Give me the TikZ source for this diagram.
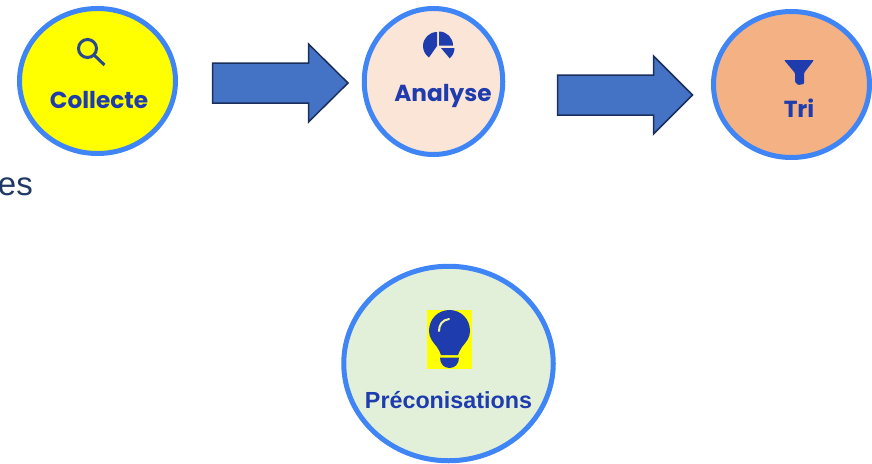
\documentclass[tikz,border=0pt]{standalone}
\usepackage{fontspec}
\setmainfont{Liberation Sans}
\newfontfamily\mont{Poppins}[BoldFont={* Bold}]
\usetikzlibrary{shapes.geometric}
\definecolor{ringblue}{HTML}{3F85F5}
\definecolor{inkblue}{HTML}{1E3CAE}
\definecolor{lensblue}{HTML}{2A4A90}
\definecolor{arrowfill}{HTML}{4472C4}
\definecolor{arrowline}{HTML}{1A2F5C}
\definecolor{navy}{HTML}{1F3864}
\definecolor{peach}{HTML}{FBE5D6}
\definecolor{orangefill}{HTML}{F4B183}
\definecolor{palegreen}{HTML}{E2F0D9}
\definecolor{pureyellow}{HTML}{FFFF00}
\definecolor{glint}{HTML}{F2F2A0}
\tikzset{
  ring/.style={draw=ringblue,line width=5pt,ellipse,inner sep=0pt,outer sep=0pt},
  blockarrow/.style={draw=arrowline,fill=arrowfill,line width=1.5pt,line join=miter},
  mlabel/.style={font=\mont\bfseries\fontsize{23.2}{23.2}\selectfont,text=inkblue,anchor=base,inner sep=0pt},
  alabel/.style={font=\bfseries\fontsize{23.3}{23.3}\selectfont,text=inkblue,anchor=base,inner sep=0pt},
  icon/.style={fill=inkblue,draw=none},
}
\begin{document}
\begin{tikzpicture}[x=1pt,y=-1pt]
\useasboundingbox (0,0) rectangle (872,463);
\clip (0,0) rectangle (872,463);
% circles
\node[ring,fill=pureyellow,minimum width=156pt,minimum height=145pt] (collecte) at (97.5,81) {};
\node[ring,fill=peach,minimum width=138.5pt,minimum height=146pt] (analyse) at (433.5,81.5) {};
\node[ring,fill=orangefill,minimum width=156pt,minimum height=146pt] (tri) at (791.5,84.5) {};
\node[ring,fill=palegreen,minimum width=209.5pt,minimum height=194.5pt] (preco) at (448.5,363.5) {};
% block arrows
\draw[blockarrow] (212.5,63) -- (308.5,63) -- (308.5,44) -- (348,83) -- (308.5,122) -- (308.5,103) -- (212.5,103) -- cycle;
\draw[blockarrow] (557.5,75) -- (653.5,75) -- (653.5,56) -- (692.5,95) -- (653.5,134) -- (653.5,115) -- (557.5,115) -- cycle;
% labels
\node[mlabel] (tcollecte) at (99,108) {Collecte};
\node[mlabel] (tanalyse) at (443,101) {Analyse};
\node[mlabel] (ttri) at (799,117) {Tri};
\node[alabel] (tpreco) at (448.5,408) {Préconisations};
\node[font=\fontsize{33}{33}\selectfont,text=navy,anchor=base east,inner sep=0pt] (tes) at (33,195) {es};
% magnifier
\draw[draw=lensblue,line width=3pt] (87.5,48.5) circle[radius=9];
\draw[draw=lensblue,line width=3pt] (94,55) -- (104.5,65);
% pie chart (y axis points down, so arc angles are mirrored)
\fill[icon] (437,46) -- (437,32) arc[start angle=-90,end angle=-235,radius=14] -- cycle;
\fill[icon] (439,45.5) -- (439,31.5) arc[start angle=-90,end angle=0,radius=14] -- cycle;
\fill[icon] (441,48) -- (454.5,48) arc[start angle=0,end angle=50,radius=13.5] -- cycle;
% funnel
\fill[icon,rounded corners=1pt] (784,60) -- (814,60) -- (804,73) -- (804,84) -- (798,85) -- (795,82) -- (795,73) -- cycle;
% bulb
\fill[pureyellow] (427,310) rectangle (472,369);
\fill[icon] (449.5,310) .. controls (438,310) and (429,319) .. (429,331)
  .. controls (429,338) and (433,342) .. (437,347) .. controls (439,350) and (440,352) .. (441,355)
  -- (458,355) .. controls (459,352) and (460,350) .. (462,347)
  .. controls (466,342) and (470,338) .. (470,331) .. controls (470,319) and (461,310) .. (449.5,310) -- cycle;
\fill[icon] (440,357.5) -- (459,357.5) .. controls (459,364) and (455,368) .. (449.5,368) .. controls (444,368) and (440,364) .. (440,357.5) -- cycle;
\draw[glint,line width=2pt,line cap=round] (439,331) .. controls (439,325) and (442,320) .. (449,319);
\end{tikzpicture}
\end{document}
